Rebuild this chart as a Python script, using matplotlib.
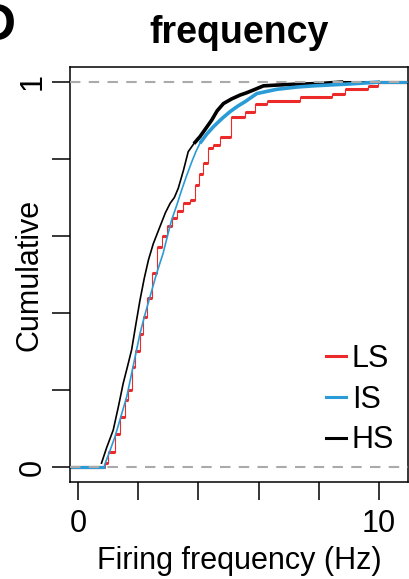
import matplotlib
matplotlib.use('Agg')
import matplotlib.pyplot as plt
import numpy as np
from matplotlib.lines import Line2D

# Cumulative curves (knots)
hs_x = [0.78, 0.95, 1.17, 1.35, 1.50, 1.64, 1.78, 1.92, 2.06, 2.20, 2.34,
        2.50, 2.72, 2.90, 3.06, 3.20, 3.33, 3.50, 3.66, 3.85, 4.05, 4.25,
        4.44, 4.62, 4.83, 5.10, 5.38, 5.60, 5.82, 6.16, 6.60, 7.15, 8.00,
        8.81]
hs_y = [0.010, 0.050, 0.096, 0.160, 0.217, 0.260, 0.304, 0.370, 0.434, 0.490,
        0.538, 0.580, 0.624, 0.660, 0.685, 0.700, 0.724, 0.770, 0.819, 0.840,
        0.858, 0.880, 0.901, 0.925, 0.944, 0.956, 0.966, 0.972, 0.979, 0.990,
        0.992, 0.994, 0.996, 1.000]

is_x = [0.88, 1.05, 1.23, 1.42, 1.62, 1.84, 2.06, 2.22, 2.39, 2.60, 2.83,
        2.97, 3.11, 3.28, 3.44, 3.60, 3.78, 3.92, 4.05, 4.28, 4.50, 4.78,
        5.05, 5.30, 5.55, 5.94, 6.60, 7.28, 7.82, 9.04, 10.03]
is_y = [0.005, 0.040, 0.079, 0.130, 0.183, 0.265, 0.347, 0.395, 0.442, 0.500,
        0.556, 0.600, 0.642, 0.680, 0.719, 0.755, 0.793, 0.820, 0.841, 0.865,
        0.884, 0.905, 0.923, 0.937, 0.949, 0.970, 0.981, 0.987, 0.990, 0.995,
        1.000]

ls_x = [0.88, 1.00, 1.23, 1.40, 1.55, 1.65, 1.78, 1.90, 2.05, 2.17, 2.30,
        2.45, 2.61, 2.78, 2.95, 3.11, 3.30, 3.50, 3.72, 3.89, 4.02, 4.16,
        4.33, 4.50, 4.72, 5.08, 5.55, 5.88, 6.27, 7.37, 8.43, 8.87, 9.64,
        9.97]
ls_y = [0.010, 0.040, 0.087, 0.130, 0.175, 0.200, 0.260, 0.300, 0.345, 0.390,
        0.440, 0.503, 0.572, 0.600, 0.625, 0.646, 0.665, 0.685, 0.694, 0.732,
        0.760, 0.789, 0.828, 0.836, 0.856, 0.910, 0.923, 0.942, 0.951, 0.962,
        0.970, 0.981, 0.990, 1.000]

groups = ['LS', 'IS', 'HS']
colors = {'LS': '#ec2a2a', 'IS': '#2a9bd7', 'HS': '#000000'}
curves = {'LS': (ls_x, ls_y), 'IS': (is_x, is_y), 'HS': (hs_x, hs_y)}

x_ticks = [0, 2, 4, 6, 8, 10]
x_ticklabels = ['0', '', '', '', '', '10']
y_ticks = [0, 0.2, 0.4, 0.6, 0.8, 1]
y_ticklabels = ['0', '', '', '', '', '1']

plt.rcParams['font.family'] = ['Liberation Sans', 'DejaVu Sans']

W, H = 410, 579
fig = plt.figure(figsize=(W / 100, H / 100), dpi=100)
ax = fig.add_axes([70 / W, 1 - 482.4 / H, 338 / W, 415.8 / H])
xmin, xmax = -0.266, 10.96
ax.set_xlim(xmin, xmax)
ax.set_ylim(-0.04, 1.04)

for g in ['HS', 'LS', 'IS']:
    x, y = curves[g]
    c = colors[g]
    xs = np.concatenate([[xmin], x, [xmax]])
    ys = np.concatenate([[0], y, [1]])
    # flat tails at 0 and 1
    ax.hlines([0, 1], [xmin, xs[-2]], [xs[1], xmax], color=c, lw=2.2)
    if g == 'LS':
        # fewer cells: visible steps
        ax.step(xs, ys, where='post', color=c, lw=0.8)
        ax.hlines(ys[:-1], xs[:-1], xs[1:], color=c, lw=2.2)
    else:
        # dense steps look like a line, thicker where they flatten out
        ax.plot(xs[1:-1], ys[1:-1], color=c, lw=1.2)
        top = (ys >= 0.84)[1:-1]
        ax.plot(np.asarray(x)[top], np.asarray(y)[top], color=c, lw=2.6,
                solid_capstyle='butt')

for v in [0, 1]:
    ax.axhline(v, color='#aaaaaa', lw=1.5, ls=(0, (5, 4)), zorder=5)

for s in ax.spines.values():
    s.set_linewidth(1.1)

ax.set_xticks(x_ticks)
ax.set_xticklabels(x_ticklabels, fontsize=22)
ax.set_yticks(y_ticks)
ax.set_yticklabels(y_ticklabels, fontsize=22, rotation=90, va='center')
ax.tick_params(axis='both', length=13, width=1.1, direction='out')
ax.tick_params(axis='x', pad=6)
ax.tick_params(axis='y', pad=3)

fig.text(239 / W, 1 - 569 / H, 'Firing frequency (Hz)', fontsize=22,
         ha='center', va='baseline')
fig.text(30 / W, 0.5 * (1 - 82 / H) + 0.5 * (1 - 467 / H), 'Cumulative',
         fontsize=22, rotation=90, ha='center', va='center')
fig.text(239.5 / W, 1 - 43 / H, 'frequency', fontsize=27,
         fontweight='bold', ha='center', va='baseline')
fig.text(-21 / W, 1 - 40 / H, 'D', fontsize=37, fontweight='bold',
         ha='left', va='baseline')

handles = [Line2D([], [], color=colors[g], lw=2.2) for g in groups]
ax.legend(handles, groups, loc='lower right', bbox_to_anchor=(0.9586, 0.0647),
          frameon=False, fontsize=22, handlelength=0.65, handletextpad=0.2,
          labelspacing=0.35, borderpad=0, borderaxespad=0)

fig.savefig('out.png', dpi=100)
